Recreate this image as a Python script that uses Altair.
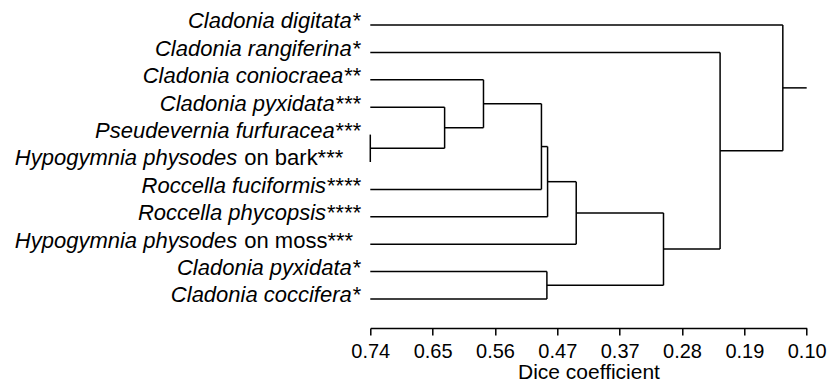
import altair as alt
import pandas as pd

# Leaf labels (top to bottom): italic part and plain suffix
leaf_italic = [
    "Cladonia digitata*",
    "Cladonia rangiferina*",
    "Cladonia coniocraea**",
    "Cladonia pyxidata***",
    "Pseudevernia furfuracea***",
    "Hypogymnia physodes",
    "Roccella fuciformis****",
    "Roccella phycopsis****",
    "Hypogymnia physodes",
    "Cladonia pyxidata*",
    "Cladonia coccifera*",
]
leaf_suffix = ["", "", "", "", "", "on bark***", "", "", "on moss***", "", ""]

# Merges: (child a, child b, Dice coefficient). Index < 11 -> leaf, else merge (index - 11)
merges = [
    (4, 5, 0.740),
    (3, 11, 0.631),
    (2, 12, 0.574),
    (13, 6, 0.489),
    (14, 7, 0.480),
    (15, 8, 0.438),
    (9, 10, 0.481),
    (16, 17, 0.310),
    (1, 18, 0.227),
    (0, 19, 0.135),
]
root_end = 0.10
leaf_height = 0.74

tick_labels = ["0.74", "0.65", "0.56", "0.47", "0.37", "0.28", "0.19", "0.10"]

n = len(leaf_italic)
node_y = {i: float(i) for i in range(n)}
node_h = {i: leaf_height for i in range(n)}
segs = []
for k, (a, b, h) in enumerate(merges):
    nid = n + k
    for c in (a, b):
        segs.append({"x": node_h[c], "x2": h, "y": node_y[c], "y2": node_y[c]})
    segs.append({"x": h, "x2": h, "y": node_y[a], "y2": node_y[b]})
    node_y[nid] = (node_y[a] + node_y[b]) / 2
    node_h[nid] = h
root = n + len(merges) - 1
segs.append({"x": node_h[root], "x2": root_end, "y": node_y[root], "y2": node_y[root]})
seg_df = pd.DataFrame(segs)

lbl_df = pd.DataFrame({"idx": list(range(n)), "italic": leaf_italic, "suffix": leaf_suffix})

lo = float(tick_labels[0])
hi = float(tick_labels[-1])
step = (lo - hi) / (len(tick_labels) - 1)
tick_vals = [lo - i * step for i in range(len(tick_labels))]
label_expr = "[" + ",".join("'%s'" % t for t in tick_labels) + "][round((%f - datum.value) / %f)]" % (lo, step)

x_scale = alt.Scale(domain=[lo, hi], nice=False, zero=False)
y_scale = alt.Scale(domain=[-0.620, 11.059], nice=False, zero=False, reverse=True)

FONT = "Liberation Sans"

rules = alt.Chart(seg_df).mark_rule(color="black", strokeWidth=1.5).encode(
    x=alt.X("x:Q", scale=x_scale, title="Dice coefficient",
            axis=alt.Axis(values=tick_vals, labelExpr=label_expr, grid=False,
                          domainColor="black", domainWidth=1.5,
                          tickColor="black", tickWidth=1.5, tickSize=7,
                          labelFont=FONT, labelFontSize=20, labelColor="black",
                          labelBaseline="alphabetic", labelPadding=22.5,
                          labelFlush=False, labelOverlap=False,
                          titleFont=FONT, titleFontSize=21, titleFontWeight="normal",
                          titleColor="black", titleBaseline="alphabetic", titleY=51)),
    x2="x2:Q",
    y=alt.Y("y:Q", scale=y_scale, axis=None),
    y2="y2:Q",
)

base_lbl = alt.Chart(lbl_df)
t_plain = base_lbl.transform_filter("datum.suffix == ''").mark_text(
    align="right", baseline="alphabetic", dx=-10, dy=3.5,
    font=FONT, fontStyle="italic", fontSize=22, color="black"
).encode(x=alt.value(0), y=alt.Y("idx:Q", scale=y_scale, axis=None), text="italic:N")

t_ital = base_lbl.transform_filter("datum.suffix != ''").mark_text(
    align="right", baseline="alphabetic", dx=-133, dy=3.5,
    font=FONT, fontStyle="italic", fontSize=22, color="black"
).encode(x=alt.value(0), y=alt.Y("idx:Q", scale=y_scale, axis=None), text="italic:N")

t_suffix = base_lbl.transform_filter("datum.suffix != ''").mark_text(
    align="left", baseline="alphabetic", dx=-126, dy=3.5,
    font=FONT, fontSize=22, color="black"
).encode(x=alt.value(0), y=alt.Y("idx:Q", scale=y_scale, axis=None), text="suffix:N")

chart = alt.layer(rules, t_plain, t_ital, t_suffix).properties(
    width=436.4, height=320,
    padding={"left": 362.3, "top": 0, "right": 20, "bottom": 56},
    autosize=alt.AutoSizeParams(type="none"),
).configure_view(stroke=None)

chart.save("out.html", embed_options={"renderer": "svg", "actions": False})
